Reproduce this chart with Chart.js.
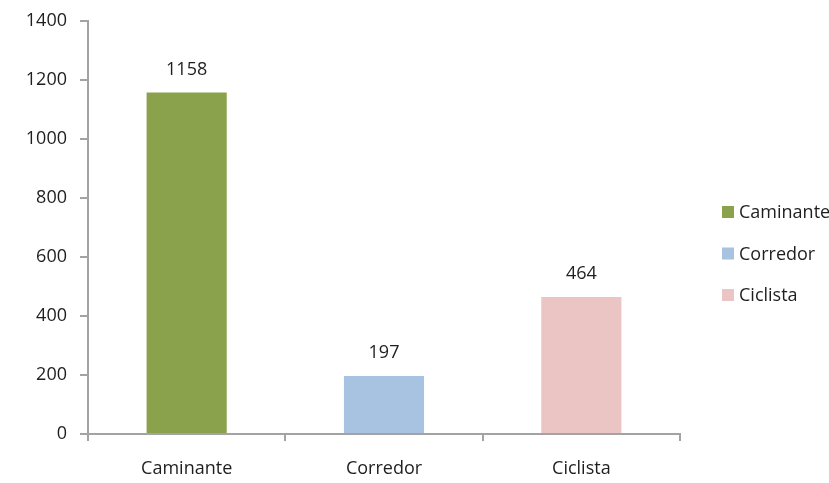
<!DOCTYPE html>
<html>
<head>
<meta charset="utf-8">
<script src="https://cdn.jsdelivr.net/npm/chart.js@4"></script>
<style>
  html, body { margin: 0; padding: 0; background: #fff; }
  #wrap { width: 829px; height: 483px; }
</style>
</head>
<body>
<div id="wrap"><canvas id="chart" width="829" height="483"></canvas></div>
<script>
var categories = ['Caminante', 'Corredor', 'Ciclista'];
var values = [1158, 197, 464];
var colors = ['#8aa24c', '#a8c2e1', '#ebc4c4'];
var yTicks = [0, 200, 400, 600, 800, 1000, 1200, 1400];

var axisColor = '#a3a3a3';
var textColor = '#1e1e1e';
var fontFamily = '"Open Sans", "Noto Sans", sans-serif';
var fontSize = 18;

// value labels above each bar
var valueLabels = {
    id: 'valueLabels',
    afterDatasetsDraw: function(chart) {
        var ctx = chart.ctx;
        var meta = chart.getDatasetMeta(0);
        ctx.save();
        ctx.font = fontSize + 'px ' + fontFamily;
        ctx.fillStyle = textColor;
        ctx.textAlign = 'center';
        ctx.textBaseline = 'middle';
        meta.data.forEach(function(bar, i) {
            ctx.fillText(values[i], bar.x, bar.y - 23);
        });
        ctx.restore();
    }
};

// legend drawn on the right, like the spreadsheet original
var sideLegend = {
    id: 'sideLegend',
    afterDraw: function(chart) {
        var ctx = chart.ctx;
        var area = chart.chartArea;
        var x = area.right + 42;
        var y = area.top + 191;
        ctx.save();
        ctx.font = fontSize + 'px ' + fontFamily;
        ctx.textBaseline = 'middle';
        categories.forEach(function(name, i) {
            var cy = y + i * 41.5;
            ctx.fillStyle = colors[i];
            ctx.fillRect(x, cy - 6, 12, 12);
            ctx.fillStyle = textColor;
            ctx.fillText(name, x + 17, cy + 1);
        });
        ctx.restore();
    }
};

var ctx = document.getElementById('chart').getContext('2d');
var chart = new Chart(ctx, {
    type: 'bar',
    data: {
        labels: categories,
        datasets: [{
            data: values,
            backgroundColor: colors,
            barPercentage: 0.406,
            categoryPercentage: 1
        }]
    },
    options: {
        responsive: false,
        animation: false,
        layout: { padding: { top: 21, right: 149, left: 0, bottom: 0 } },
        plugins: {
            legend: { display: false },
            tooltip: { enabled: false }
        },
        scales: {
            x: {
                offset: true,
                grid: { offset: true, drawOnChartArea: false, drawTicks: true, tickLength: 7, color: axisColor, lineWidth: 2 },
                border: { color: axisColor, width: 2 },
                ticks: { color: textColor, font: { family: fontFamily, size: fontSize }, padding: 17 },
                afterFit: function(s) { s.height = 49; s.paddingLeft = 0; s.paddingRight = 0; }
            },
            y: {
                min: 0,
                max: 1400,
                afterBuildTicks: function(s) { s.ticks = yTicks.map(function(v) { return { value: v }; }); },
                grid: { drawOnChartArea: false, drawTicks: true, tickLength: 8, color: axisColor, lineWidth: 2 },
                border: { color: axisColor, width: 2 },
                ticks: {
                    color: textColor,
                    font: { family: fontFamily, size: fontSize },
                    padding: 13,
                    callback: function(v) { return String(v); }
                },
                afterFit: function(s) { s.width = 88; s.paddingTop = 0; s.paddingBottom = 0; }
            }
        }
    },
    plugins: [valueLabels, sideLegend]
});
</script>
</body>
</html>
